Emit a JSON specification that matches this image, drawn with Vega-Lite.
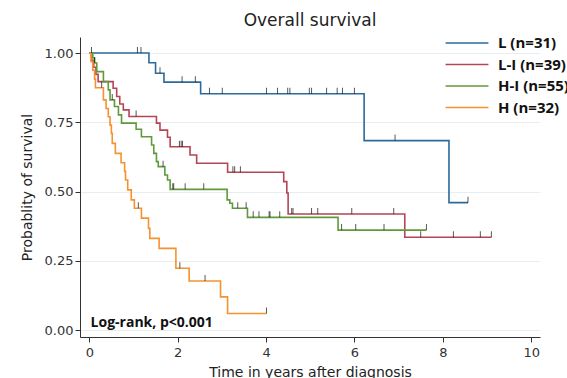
{
  "$schema": "https://vega.github.io/schema/vega-lite/v6.json",
  "autosize": {"type": "none"},
  "width": 460,
  "height": 300,
  "padding": {"left": 80, "top": 37, "right": 27, "bottom": 41},
  "background": "white",
  "title": {"text": "Overall survival", "fontSize": 17, "fontWeight": "normal", "font": "DejaVu Sans", "color": "#222", "anchor": "middle", "offset": 3, "dy": 2},
  "config": {
    "view": {"stroke": null},
    "axis": {"labelFont": "DejaVu Sans", "titleFont": "DejaVu Sans", "labelFontSize": 13, "titleFontSize": 14, "titleFontWeight": "normal", "labelColor": "#333", "titleColor": "#222", "domainColor": "#333", "tickColor": "#333", "tickSize": 5}
  },
  "datasets": {
    "curves": [
      {"t": 0, "s": 1, "g": "L (n=31)"},
      {"t": 1.35, "s": 0.965, "g": "L (n=31)"},
      {"t": 1.5, "s": 0.927, "g": "L (n=31)"},
      {"t": 1.69, "s": 0.895, "g": "L (n=31)"},
      {"t": 2.52, "s": 0.853, "g": "L (n=31)"},
      {"t": 6.22, "s": 0.684, "g": "L (n=31)"},
      {"t": 8.14, "s": 0.46, "g": "L (n=31)"},
      {"t": 8.57, "s": 0.46, "g": "L (n=31)"},

      {"t": 0, "s": 1, "g": "L-I (n=39)"},
      {"t": 0.05, "s": 0.974, "g": "L-I (n=39)"},
      {"t": 0.1, "s": 0.949, "g": "L-I (n=39)"},
      {"t": 0.15, "s": 0.923, "g": "L-I (n=39)"},
      {"t": 0.2, "s": 0.897, "g": "L-I (n=39)"},
      {"t": 0.54, "s": 0.873, "g": "L-I (n=39)"},
      {"t": 0.62, "s": 0.843, "g": "L-I (n=39)"},
      {"t": 0.69, "s": 0.816, "g": "L-I (n=39)"},
      {"t": 0.77, "s": 0.795, "g": "L-I (n=39)"},
      {"t": 0.9, "s": 0.771, "g": "L-I (n=39)"},
      {"t": 1.52, "s": 0.747, "g": "L-I (n=39)"},
      {"t": 1.6, "s": 0.722, "g": "L-I (n=39)"},
      {"t": 1.77, "s": 0.696, "g": "L-I (n=39)"},
      {"t": 1.83, "s": 0.662, "g": "L-I (n=39)"},
      {"t": 2.28, "s": 0.632, "g": "L-I (n=39)"},
      {"t": 2.43, "s": 0.602, "g": "L-I (n=39)"},
      {"t": 3.13, "s": 0.57, "g": "L-I (n=39)"},
      {"t": 4.4, "s": 0.536, "g": "L-I (n=39)"},
      {"t": 4.47, "s": 0.495, "g": "L-I (n=39)"},
      {"t": 4.5, "s": 0.419, "g": "L-I (n=39)"},
      {"t": 7.14, "s": 0.335, "g": "L-I (n=39)"},
      {"t": 9.1, "s": 0.335, "g": "L-I (n=39)"},

      {"t": 0, "s": 1, "g": "H-I (n=55)"},
      {"t": 0.08, "s": 0.982, "g": "H-I (n=55)"},
      {"t": 0.12, "s": 0.964, "g": "H-I (n=55)"},
      {"t": 0.17, "s": 0.933, "g": "H-I (n=55)"},
      {"t": 0.32, "s": 0.897, "g": "H-I (n=55)"},
      {"t": 0.43, "s": 0.867, "g": "H-I (n=55)"},
      {"t": 0.47, "s": 0.831, "g": "H-I (n=55)"},
      {"t": 0.57, "s": 0.807, "g": "H-I (n=55)"},
      {"t": 0.66, "s": 0.777, "g": "H-I (n=55)"},
      {"t": 0.73, "s": 0.747, "g": "H-I (n=55)"},
      {"t": 1.06, "s": 0.725, "g": "H-I (n=55)"},
      {"t": 1.18, "s": 0.698, "g": "H-I (n=55)"},
      {"t": 1.41, "s": 0.668, "g": "H-I (n=55)"},
      {"t": 1.46, "s": 0.638, "g": "H-I (n=55)"},
      {"t": 1.52, "s": 0.608, "g": "H-I (n=55)"},
      {"t": 1.56, "s": 0.59, "g": "H-I (n=55)"},
      {"t": 1.71, "s": 0.56, "g": "H-I (n=55)"},
      {"t": 1.77, "s": 0.542, "g": "H-I (n=55)"},
      {"t": 1.83, "s": 0.508, "g": "H-I (n=55)"},
      {"t": 3.12, "s": 0.47, "g": "H-I (n=55)"},
      {"t": 3.18, "s": 0.458, "g": "H-I (n=55)"},
      {"t": 3.24, "s": 0.44, "g": "H-I (n=55)"},
      {"t": 3.58, "s": 0.407, "g": "H-I (n=55)"},
      {"t": 5.63, "s": 0.361, "g": "H-I (n=55)"},
      {"t": 7.63, "s": 0.361, "g": "H-I (n=55)"},

      {"t": 0, "s": 1, "g": "H (n=32)"},
      {"t": 0.04, "s": 0.969, "g": "H (n=32)"},
      {"t": 0.08, "s": 0.938, "g": "H (n=32)"},
      {"t": 0.12, "s": 0.906, "g": "H (n=32)"},
      {"t": 0.14, "s": 0.875, "g": "H (n=32)"},
      {"t": 0.32, "s": 0.831, "g": "H (n=32)"},
      {"t": 0.38, "s": 0.8, "g": "H (n=32)"},
      {"t": 0.43, "s": 0.77, "g": "H (n=32)"},
      {"t": 0.47, "s": 0.74, "g": "H (n=32)"},
      {"t": 0.5, "s": 0.71, "g": "H (n=32)"},
      {"t": 0.52, "s": 0.674, "g": "H (n=32)"},
      {"t": 0.59, "s": 0.638, "g": "H (n=32)"},
      {"t": 0.72, "s": 0.604, "g": "H (n=32)"},
      {"t": 0.8, "s": 0.573, "g": "H (n=32)"},
      {"t": 0.82, "s": 0.542, "g": "H (n=32)"},
      {"t": 0.87, "s": 0.506, "g": "H (n=32)"},
      {"t": 0.95, "s": 0.47, "g": "H (n=32)"},
      {"t": 1.02, "s": 0.44, "g": "H (n=32)"},
      {"t": 1.18, "s": 0.404, "g": "H (n=32)"},
      {"t": 1.34, "s": 0.367, "g": "H (n=32)"},
      {"t": 1.37, "s": 0.331, "g": "H (n=32)"},
      {"t": 1.58, "s": 0.295, "g": "H (n=32)"},
      {"t": 1.96, "s": 0.223, "g": "H (n=32)"},
      {"t": 2.26, "s": 0.177, "g": "H (n=32)"},
      {"t": 2.97, "s": 0.12, "g": "H (n=32)"},
      {"t": 3.13, "s": 0.06, "g": "H (n=32)"},
      {"t": 4.01, "s": 0.06, "g": "H (n=32)"}
    ],
    "censors": [
      {"t": 0.05, "s": 1},
      {"t": 1.09, "s": 1},
      {"t": 1.17, "s": 1},
      {"t": 1.6, "s": 0.927},
      {"t": 2.1, "s": 0.895},
      {"t": 2.4, "s": 0.895},
      {"t": 2.72, "s": 0.853},
      {"t": 3.01, "s": 0.853},
      {"t": 4.01, "s": 0.853},
      {"t": 4.26, "s": 0.853},
      {"t": 4.49, "s": 0.853},
      {"t": 4.54, "s": 0.853},
      {"t": 4.98, "s": 0.853},
      {"t": 5.03, "s": 0.853},
      {"t": 5.37, "s": 0.853},
      {"t": 5.61, "s": 0.853},
      {"t": 5.73, "s": 0.853},
      {"t": 6.0, "s": 0.853},
      {"t": 6.92, "s": 0.684},
      {"t": 8.57, "s": 0.46},

      {"t": 1.06, "s": 0.771},
      {"t": 2.04, "s": 0.662},
      {"t": 2.08, "s": 0.662},
      {"t": 2.11, "s": 0.662},
      {"t": 3.25, "s": 0.57},
      {"t": 3.29, "s": 0.57},
      {"t": 3.42, "s": 0.57},
      {"t": 4.58, "s": 0.419},
      {"t": 4.61, "s": 0.419},
      {"t": 5.03, "s": 0.419},
      {"t": 5.17, "s": 0.419},
      {"t": 5.94, "s": 0.419},
      {"t": 6.89, "s": 0.419},
      {"t": 7.5, "s": 0.335},
      {"t": 8.24, "s": 0.335},
      {"t": 8.85, "s": 0.335},
      {"t": 9.1, "s": 0.335},

      {"t": 0.12, "s": 0.964},
      {"t": 0.52, "s": 0.831},
      {"t": 1.67, "s": 0.59},
      {"t": 1.89, "s": 0.508},
      {"t": 1.91, "s": 0.508},
      {"t": 2.17, "s": 0.508},
      {"t": 2.59, "s": 0.508},
      {"t": 3.36, "s": 0.44},
      {"t": 3.55, "s": 0.44},
      {"t": 3.71, "s": 0.407},
      {"t": 3.84, "s": 0.407},
      {"t": 4.07, "s": 0.407},
      {"t": 4.09, "s": 0.407},
      {"t": 4.31, "s": 0.407},
      {"t": 5.71, "s": 0.361},
      {"t": 6.03, "s": 0.361},
      {"t": 6.67, "s": 0.361},
      {"t": 7.63, "s": 0.361},

      {"t": 0.28, "s": 0.875},
      {"t": 1.11, "s": 0.44},
      {"t": 2.05, "s": 0.223},
      {"t": 2.62, "s": 0.177},
      {"t": 4.01, "s": 0.06}
    ],
    "notes": [
      {"t": 0.03, "s": 0, "label": "Log-rank, p<0.001"}
    ]
  },
  "layer": [
    {
      "data": {"name": "curves"},
      "mark": {"type": "line", "interpolate": "step-after", "strokeWidth": 1.6},
      "encoding": {
        "x": {"field": "t", "type": "quantitative", "scale": {"domain": [-0.21, 10.2], "nice": false, "zero": false},
          "axis": {"values": [0, 2, 4, 6, 8, 10], "grid": false, "title": "Time in years after diagnosis", "labelPadding": 4, "titlePadding": 6}},
        "y": {"field": "s", "type": "quantitative", "scale": {"domain": [-0.025, 1.058], "nice": false, "zero": false},
          "axis": {"values": [0, 0.25, 0.5, 0.75, 1], "format": ".2f", "grid": true, "gridColor": "#e6eef2", "gridWidth": 1, "title": "Probablity of survival", "labelPadding": 2, "titlePadding": 10}},
        "color": {"field": "g", "type": "nominal",
          "scale": {"domain": ["L (n=31)", "L-I (n=39)", "H-I (n=55)", "H (n=32)"], "range": ["#2c6a9c", "#b44556", "#5f9a3d", "#f5922f"]},
          "legend": {"title": null, "orient": "none", "legendX": 375, "legendY": -6, "symbolType": "M-2,0H2", "symbolSize": 460, "symbolStrokeWidth": 1.6, "labelFont": "Open Sans", "labelFontWeight": "bold", "labelFontSize": 15, "labelColor": "#111", "rowPadding": 1.5, "labelOffset": 19}}
      }
    },
    {
      "data": {"name": "censors"},
      "mark": {"type": "tick", "orient": "vertical", "color": "#111", "size": 6, "thickness": 1, "yOffset": -3},
      "encoding": {
        "x": {"field": "t", "type": "quantitative"},
        "y": {"field": "s", "type": "quantitative"}
      }
    },
    {
      "data": {"name": "notes"},
      "mark": {"type": "text", "align": "left", "baseline": "alphabetic", "font": "Open Sans", "fontWeight": "bold", "fontSize": 14, "color": "#111", "dy": -3},
      "encoding": {
        "x": {"field": "t", "type": "quantitative"},
        "y": {"field": "s", "type": "quantitative"},
        "text": {"field": "label"}
      }
    }
  ]
}
